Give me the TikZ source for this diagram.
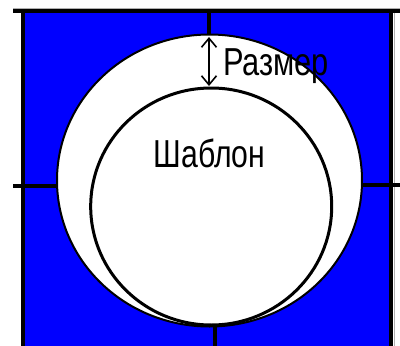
\documentclass[tikz,border=0pt]{standalone}
\usepackage{fontspec}
\setmainfont{Liberation Sans}
\usetikzlibrary{arrows.meta}
\definecolor{fieldblue}{RGB}{0,0,255}
\tikzset{
  gridline/.style={black, line width=4pt},
  thinedge/.style={color={rgb,255:red,175;green,175;blue,175}, line width=1pt},
  lbl/.style={inner sep=0pt, font=\fontsize{39}{39}\selectfont, xscale=0.79},
}
\begin{document}
\begin{tikzpicture}[x=1pt,y=-1pt]
\useasboundingbox (0,0) rectangle (400,346);
\fill[fieldblue] (23,11) rectangle (390.5,346);
% thin grey edges
\draw[thinedge] (13,8) -- (400,8);
\draw[thinedge] (394,13) -- (394,346);
% grid lines
\draw[gridline] (13,11) -- (400,11);
\draw[gridline] (23,11) -- (23,346);
\draw[gridline] (390.5,11) -- (390.5,346);
\draw[gridline] (13,186) -- (120,186);
\draw[gridline] (300,185) -- (400,185);
\draw[gridline] (209,11) -- (209,60);
\draw[gridline] (215,300) -- (215,346);
% outer ring
\draw[fill=white, line width=2pt] (209.5,180.5) ellipse [x radius=152.5, y radius=146];
% template
\draw[line width=3pt] (211.2,206.5) ellipse [x radius=120.5, y radius=118.5];
% size arrow
\coordinate (atop) at (209,37);
\coordinate (abot) at (209,86);
\draw[line width=1.6pt, {Straight Barb[length=9pt,width=15pt]}-{Straight Barb[length=9pt,width=15pt]}] (atop) -- (abot);
\node[lbl, anchor=base west] (size) at (223,75) {Размер};
\node[lbl, xscale=0.98, anchor=base] (tmpl) at (209.5,167) {Шаблон};
\end{tikzpicture}
\end{document}
